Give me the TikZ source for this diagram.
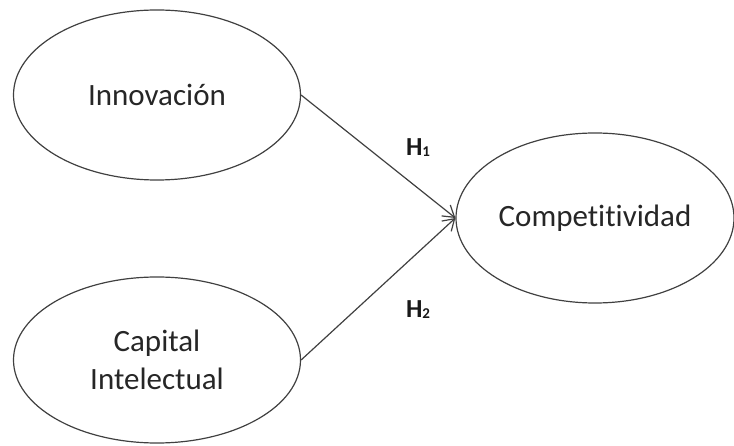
\documentclass[tikz,border=0pt]{standalone}
\usepackage{fontspec}
\setmainfont{Carlito}[Ligatures={NoCommon, NoContextual}]
\usetikzlibrary{shapes.geometric, arrows.meta}

\newcommand{\hyp}[1]{\textbf{H}\raisebox{-1pt}{\fontsize{15}{15}\selectfont\bfseries #1}}

\begin{document}
\begin{tikzpicture}[x=1pt, y=-1pt, line width=1.2pt,
    construct/.style={ellipse, draw=black!75, inner sep=0pt, align=center,
      font=\fontsize{31}{38}\selectfont, text=black!85},
    path/.style={draw=black!75, -{Straight Barb[length=11pt, width=14pt]}},
    hlabel/.style={font=\fontsize{26}{30}\selectfont, text=black!90}]
  \useasboundingbox (0,0) rectangle (734,446);
  \node[construct, minimum width=287, minimum height=170] (inno) at (157,95) {Innovación};
  \node[construct, minimum width=287, minimum height=166] (capital) at (157,360) {Capital\\Intelectual};
  \node[construct, minimum width=278, minimum height=170] (comp) at (595,218) {Competitividad};
  \draw[path] (inno.east) -- (comp.west);
  \draw[path] (capital.east) -- (comp.west);
  \node[hlabel] (h1) at (418,148) {\hyp{1}};
  \node[hlabel] (h2) at (418,310) {\hyp{2}};
\end{tikzpicture}
\end{document}
